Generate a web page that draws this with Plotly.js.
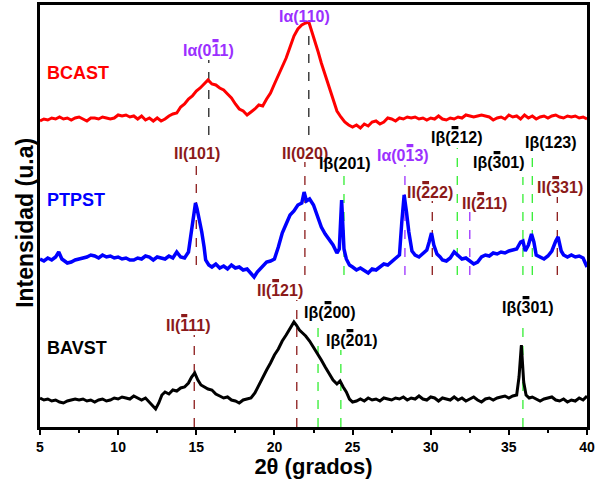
<!DOCTYPE html>
<html>
<head>
<meta charset="utf-8">
<script src="https://cdn.plot.ly/plotly-3.0.1.min.js"></script>
<style>html,body{margin:0;padding:0;background:#fff;}</style>
</head>
<body>
<div id="chart" style="width:595px;height:479px;"></div>
<script>
// ---------- DATA (2θ in degrees, intensity in arbitrary units, curves already offset) ----------
const x_BCAST = [5,5.25,5.5,5.75,6,6.25,6.5,6.75,7,7.25,7.5,7.75,8,8.25,8.5,8.75,9,9.25,9.5,9.75,10,10.25,10.5,10.75,11,11.25,11.5,11.75,12,12.25,12.5,12.75,13,13.25,13.5,13.75,14,14.25,14.5,14.75,15,15.25,15.5,15.75,16,16.25,16.5,16.75,17,17.25,17.5,17.75,18,18.25,18.5,18.75,19,19.25,19.5,19.75,20,20.25,20.5,20.75,21,21.25,21.5,21.75,22,22.2,22.4,22.6,22.8,23,23.25,23.5,23.75,24,24.25,24.5,24.75,25,25.25,25.5,25.75,26,26.25,26.5,26.75,27,27.25,27.5,27.75,28,28.25,28.5,28.75,29,29.25,29.5,29.75,30,30.25,30.5,30.75,31,31.25,31.5,31.75,32,32.25,32.5,32.75,33,33.25,33.5,33.75,34,34.25,34.5,34.75,35,35.25,35.5,35.75,36,36.25,36.5,36.75,37,37.25,37.5,37.75,38,38.25,38.5,38.75,39,39.25,39.5,39.75,40];
const y_BCAST = [306,308,307,309,308,310,308,309,307,309,310,308,306,309,309,308,310,309,308,309,312,311,312,310,311,308,311,307,309,306,309,306,308,311,313,314,320,323,328,331,336,339,343,347,343,342,339,337,333,329,323,318,316,312,315,318,322,321,328,334,343,352,360,369,380,391,398,402,404,405,395,386,375,364,352,340,327,316,310,305,302,300,302,299,303,301,305,306,303,305,309,308,306,309,308,310,309,310,308,309,307,309,308,311,308,307,309,308,310,309,312,311,310,311,312,311,310,307,309,310,308,312,310,311,308,312,309,311,308,310,311,309,311,312,310,309,311,310,311,309,310,308];

const x_PTPST = [5,5.25,5.5,5.75,6,6.2,6.4,6.75,7,7.25,7.5,7.75,8,8.25,8.5,8.75,9,9.25,9.5,9.75,10,10.25,10.5,10.75,11,11.25,11.5,11.75,12,12.25,12.5,12.75,13,13.25,13.5,13.75,14,14.25,14.5,14.7,14.85,14.95,15.05,15.2,15.35,15.5,15.6,15.8,16,16.25,16.5,16.75,17,17.25,17.5,17.75,18,18.25,18.5,18.7,18.9,19.1,19.3,19.5,19.75,20,20.25,20.5,20.75,21,21.25,21.5,21.75,21.9,22.05,22.25,22.5,22.75,23,23.25,23.5,23.75,24,24.15,24.3,24.45,24.6,24.8,25,25.25,25.5,25.75,26,26.25,26.5,26.75,27,27.25,27.5,27.75,28,28.15,28.3,28.45,28.6,28.8,29,29.25,29.5,29.75,29.9,30.05,30.2,30.4,30.6,30.75,31,31.25,31.5,31.75,32,32.25,32.5,32.75,33,33.25,33.5,33.75,34,34.25,34.5,34.75,35,35.25,35.5,35.75,35.9,36.05,36.25,36.45,36.6,36.75,37,37.25,37.5,37.75,38,38.15,38.35,38.5,38.75,39,39.25,39.5,39.75,39.9,40];
const y_PTPST = [168,166,169,167,170,175,168,164,165,167,168,169,170,172,171,169,172,170,171,169,170,168,169,167,167,169,168,171,170,167,170,169,168,171,169,175,170,169,175,197,215,224,218,207,195,180,167,162,160,163,159,161,158,162,159,160,157,158,153,150,155,158,162,165,166,168,180,194,203,212,216,222,224,235,226,228,222,212,200,193,188,182,174,178,227,178,168,162,160,157,159,156,154,158,157,160,163,162,165,168,172,205,232,215,195,176,172,170,174,177,185,194,182,173,170,167,166,169,175,172,168,169,166,163,165,170,172,171,174,173,175,174,176,177,178,185,186,176,182,193,185,172,170,168,171,176,186,190,176,172,170,172,170,171,169,164,160];

const x_BAVST = [5,5.25,5.5,5.75,6,6.25,6.5,6.75,7,7.25,7.5,7.75,8,8.25,8.5,8.75,9,9.25,9.5,9.75,10,10.25,10.5,10.75,11,11.25,11.5,11.75,12,12.25,12.4,12.6,12.8,13,13.25,13.5,13.75,14,14.25,14.5,14.7,14.9,15.1,15.3,15.5,15.75,16,16.25,16.5,16.75,17,17.25,17.5,17.75,18,18.25,18.5,18.75,19,19.25,19.5,19.75,20,20.25,20.5,20.75,21,21.25,21.4,21.6,21.8,22,22.25,22.5,22.75,23,23.25,23.5,23.75,24,24.2,24.4,24.6,24.8,25,25.25,25.5,25.75,26,26.25,26.5,26.75,27,27.25,27.5,27.75,28,28.25,28.5,28.75,29,29.25,29.5,29.75,30,30.25,30.5,30.75,31,31.25,31.5,31.75,32,32.25,32.5,32.75,33,33.25,33.5,33.75,34,34.25,34.5,34.75,35,35.25,35.5,35.65,35.8,35.95,36.1,36.3,36.5,36.75,37,37.25,37.5,37.75,38,38.25,38.5,38.75,39,39.25,39.5,39.75,40];
const y_BAVST = [29,27,28,26,27,25,24,26,27,28,27,28,26,27,25,27,28,26,27,29,28,30,29,28,31,29,27,29,25,21,18,24,32,35,33,37,36,39,40,44,50,54,47,42,40,38,37,33,31,29,30,27,26,24,27,28,29,34,42,49,57,64,72,78,86,92,98,105,102,97,94,91,86,80,73,67,60,54,47,43,46,40,35,28,25,26,28,26,29,27,28,26,29,28,27,29,28,30,27,29,28,31,28,27,30,29,26,29,28,27,30,27,29,26,28,30,27,25,28,29,27,29,30,31,29,31,32,50,82,45,32,29,30,28,26,28,29,30,27,26,28,25,27,26,29,27,31];

// Series names
const seriesNames = ["BCAST", "PTPST", "BAVST"];

// Peak assignments (Miller indices; U+0304 = overbar on the preceding digit)
const peakText_BCAST = ["I\u03b1(01\u03041)", "I\u03b1(110)"];
const peakPos_BCAST  = [15.8, 22.2];
const peakText_PTPST = ["II(101)", "II(020)", "I\u03b2(201)", "I\u03b1(01\u03043)", "II(2\u030422)", "I\u03b2(2\u030412)", "II(2\u030411)", "I\u03b2(3\u030401)", "I\u03b2(123)", "II(3\u030431)"];
const peakPos_PTPST  = [15.0, 21.95, 24.45, 28.35, 30.1, 31.7, 32.5, 35.9, 36.5, 38.1];
const peakText_BAVST = ["II(1\u030411)", "II(1\u030421)", "I\u03b2(2\u030400)", "I\u03b2(2\u030401)", "I\u03b2(3\u030401)"];
const peakPos_BAVST  = [14.87, 21.43, 22.79, 24.25, 35.9];

// ---------- STYLE / LAYOUT ----------
const FONT = "Liberation Sans, Arial, sans-serif";
const PURPLE = "#9b30ff", DRED = "#8b1a1a", GREEN = "#33ee33";
const OVERBAR = "\u0304";

const traces = [
  {x: x_BCAST, y: y_BCAST, name: seriesNames[0], mode: "lines", line: {color: "#ff0000", width: 3}},
  {x: x_PTPST, y: y_PTPST, name: seriesNames[1], mode: "lines", line: {color: "#0000ff", width: 3.5}},
  {x: x_BAVST, y: y_BAVST, name: seriesNames[2], mode: "lines", line: {color: "#000000", width: 3}}
];

// label style per peak: [textColor, lineColor, labelX, labelY, lineTop, lineBottom]
const stylesBCAST = [
  [PURPLE, "#222", 15.75, 377, 367, 292],
  [PURPLE, "#222", 21.95, 411, 400, 292]
];
const stylesPTPST = [
  [DRED, DRED, 15.05, 274, 265, 162],
  [DRED, DRED, 21.95, 274, 265, 152],
  ["#000", GREEN, 24.5, 264, 255, 152],
  [PURPLE, PURPLE, 28.25, 272, 262, 152],
  [DRED, DRED, 29.95, 235, 226, 152],
  ["#000", GREEN, 31.7, 290, 279, 152],
  [DRED, PURPLE, 33.45, 224, 215, 152],
  ["#000", GREEN, 34.4, 265, 250, 152],
  ["#000", GREEN, 37.7, 285, 275, 152],
  [DRED, DRED, 38.25, 240, 230, 152]
];
const stylesBAVST = [
  [DRED, DRED, 14.45, 102, 92, 0],
  [DRED, DRED, 20.35, 137, 127, 0],
  ["#000", GREEN, 23.55, 115, 102, 0],
  ["#000", GREEN, 24.95, 87, 77, 0],
  ["#000", GREEN, 36.2, 120, 107, 0]
];

const annotations = [];
const shapes = [];
const bars = []; // {ann, ch, color}
function addPeaks(texts, pos, styles) {
  texts.forEach((t, i) => {
    const s = styles[i];
    const k = t.indexOf(OVERBAR);
    const plain = t.split(OVERBAR).join("");
    if (k > 0) bars.push({ann: annotations.length, ch: k - 1, color: s[0]});
    annotations.push({x: s[2], y: s[3], xref: "x", yref: "y", text: plain, showarrow: false,
      xanchor: "center", yanchor: "middle",
      font: {family: FONT, size: 16, color: s[0], weight: "bold"}});
    shapes.push({type: "line", xref: "x", yref: "y", x0: pos[i], x1: pos[i], y0: s[5], y1: s[4],
      line: {color: s[1], width: 1.3, dash: "dash"}, layer: "below"});
  });
}
addPeaks(peakText_BCAST, peakPos_BCAST, stylesBCAST);
addPeaks(peakText_PTPST, peakPos_PTPST, stylesPTPST);
addPeaks(peakText_BAVST, peakPos_BAVST, stylesBAVST);

// series name labels
const nameColors = ["#ff0000", "#0000ff", "#000000"];
const nameY = [354, 227, 79];
seriesNames.forEach((n, i) => {
  annotations.push({x: 5.3, y: nameY[i], xref: "x", yref: "y", text: n, showarrow: false,
    xanchor: "left", yanchor: "middle",
    font: {family: FONT, size: 18, color: nameColors[i], weight: "bold"}});
});

// y-axis title (placed as a rotated annotation so it sits where the reference has it)
annotations.push({xref: "paper", yref: "paper", x: -0.028, y: 0.483, text: "Intensidad (u.a)",
  textangle: -90, showarrow: false, xanchor: "center", yanchor: "middle",
  font: {family: FONT, size: 23, color: "#000", weight: "bold"}});

const layout = {
  width: 595, height: 479,
  margin: {l: 40, r: 8, t: 5, b: 52},
  paper_bgcolor: "#fff", plot_bgcolor: "#fff",
  showlegend: false,
  xaxis: {
    range: [5, 40], tick0: 5, dtick: 5, showgrid: false, zeroline: false,
    showline: true, linewidth: 3, linecolor: "#000", mirror: true,
    ticks: "outside", ticklen: 5, tickwidth: 2, tickcolor: "#000",
    minor: {tick0: 5, dtick: 2.5, ticks: "outside", ticklen: 3, tickwidth: 2, tickcolor: "#000"},
    tickfont: {family: FONT, size: 14, color: "#000", weight: "bold"},
    title: {text: "2\u03b8 (grados)", font: {family: FONT, size: 22, color: "#000", weight: "bold"}, standoff: 7}
  },
  yaxis: {
    range: [0, 422], showgrid: false, zeroline: false, showticklabels: false, ticks: "",
    showline: true, linewidth: 3, linecolor: "#000", mirror: true
  },
  annotations: annotations,
  shapes: shapes
};

Plotly.newPlot("chart", traces, layout, {displayModeBar: false, staticPlot: true}).then(gd => {
  // draw the Miller-index overbars above the marked digits
  bars.forEach(b => {
    const g = gd.querySelector('.annotation[data-index="' + b.ann + '"]');
    if (!g) return;
    const t = g.querySelector("text.annotation-text");
    if (!t) return;
    let ext;
    try { ext = t.getExtentOfChar(b.ch); } catch (e) { return; }
    const r = document.createElementNS("http://www.w3.org/2000/svg", "rect");
    r.setAttribute("x", ext.x + ext.width * 0.12);
    r.setAttribute("y", ext.y - 3);
    r.setAttribute("width", ext.width * 0.76);
    r.setAttribute("height", 3.2);
    r.setAttribute("fill", b.color);
    t.parentNode.appendChild(r);
  });
});
</script>
</body>
</html>
